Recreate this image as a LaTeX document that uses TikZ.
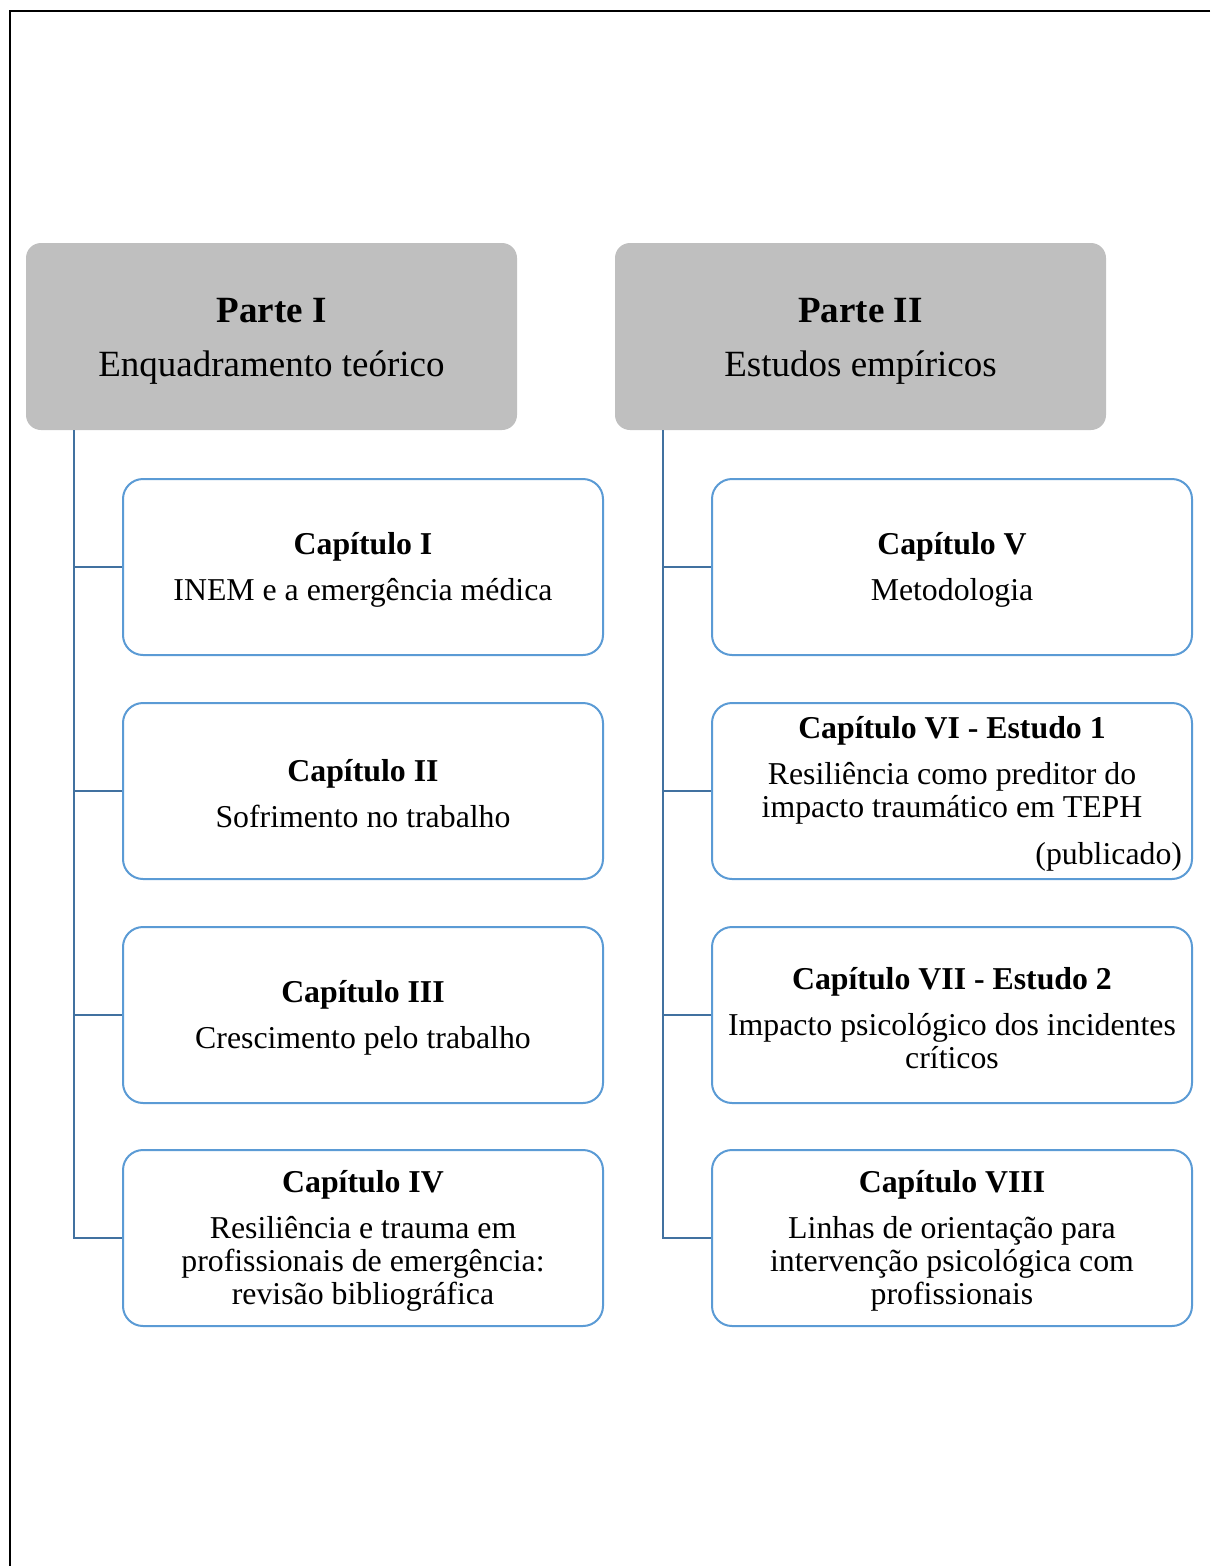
\documentclass[tikz,border=0pt]{standalone}
\usepackage{fontspec}
\setmainfont{Liberation Serif}
\usetikzlibrary{positioning}
\definecolor{partgray}{RGB}{191,191,191}
\definecolor{chapblue}{RGB}{91,155,213}
\definecolor{linkblue}{RGB}{65,113,160}
\newcommand{\parttitle}[1]{\rule{0pt}{33pt}\textbf{#1}}
\newcommand{\captitle}[1]{\rule{0pt}{28pt}\textbf{#1}}
\newcommand{\fixspaces}{\spaceskip=\fontdimen2\font\relax\xspaceskip=\fontdimen2\font\relax}
\tikzset{
  parte/.style={
    rectangle, rounded corners=15pt, fill=partgray, draw=none,
    minimum width=491pt, minimum height=187pt, align=center,
    font=\fontsize{37}{54}\selectfont,
    execute at begin node=\fixspaces
  },
  capitulo/.style={
    rectangle, rounded corners=20pt, draw=chapblue, line width=2pt,
    fill=white, minimum width=480pt, minimum height=176pt,
    text width=460pt, inner xsep=10pt, align=center,
    font=\fontsize{31.8}{33}\selectfont,
    execute at begin node=\fixspaces
  },
  link/.style={draw=linkblue, line width=2.5pt},
  pageframe/.style={draw=black, line width=2.2pt}
}

\begin{document}
\begin{tikzpicture}[x=1pt, y=-1pt]
  \useasboundingbox (0,0) rectangle (1210,1566);

  % ── Page frame ────────────────────────────────────────────────────
  \coordinate (tr) at (1210,11);
  \coordinate (tl) at (10,11);
  \coordinate (bl) at (10,1566);
  \draw[pageframe] (tr) -- (tl) -- (bl);

  % ── Parts ─────────────────────────────────────────────────────────
  \node[parte] (parte1) at (271.5, 336.5)
    {\parttitle{Parte I}\\Enquadramento teórico};
  \node[parte] (parte2) at (860.5, 336.5)
    {\parttitle{Parte II}\\Estudos empíricos};

  % ── Part I chapters ───────────────────────────────────────────────
  \node[capitulo] (cap1) at (363, 567)
    {\captitle{Capítulo I}\\[13pt]INEM e a emergência médica};
  \node[capitulo] (cap2) at (363, 791)
    {\captitle{Capítulo II}\\[13pt]Sofrimento no trabalho};
  \node[capitulo] (cap3) at (363, 1015)
    {\captitle{Capítulo III}\\[13pt]Crescimento pelo trabalho};
  \node[capitulo] (cap4) at (363, 1238)
    {\captitle{Capítulo IV}\\[13pt]Resiliência e trauma em\\
     profissionais de emergência:\\revisão bibliográfica};

  % ── Part II chapters ──────────────────────────────────────────────
  \node[capitulo] (cap5) at (952, 567)
    {\captitle{Capítulo V}\\[13pt]Metodologia};
  \node[capitulo] (cap6) at (952, 791)
    {\captitle{Capítulo VI - Estudo 1}\\[13pt]Resiliência como preditor do\\
     impacto traumático em TEPH\\[14pt]\makebox[\linewidth][r]{(publicado)}};
  \node[capitulo] (cap7) at (952, 1015)
    {\captitle{Capítulo VII - Estudo 2}\\[13pt]Impacto psicológico dos incidentes\\
     críticos};
  \node[capitulo] (cap8) at (952, 1238)
    {\captitle{Capítulo VIII}\\[13pt]Linhas de orientação para\\
     intervenção psicológica com\\profissionais};

  % ── Connections ───────────────────────────────────────────────────
  \coordinate (trunk1) at (74, 430);
  \coordinate (trunk2) at (663, 430);

  \draw[link] (trunk1) |- (cap4.west);
  \draw[link] (trunk1 |- cap1.west) -- (cap1.west);
  \draw[link] (trunk1 |- cap2.west) -- (cap2.west);
  \draw[link] (trunk1 |- cap3.west) -- (cap3.west);

  \draw[link] (trunk2) |- (cap8.west);
  \draw[link] (trunk2 |- cap5.west) -- (cap5.west);
  \draw[link] (trunk2 |- cap6.west) -- (cap6.west);
  \draw[link] (trunk2 |- cap7.west) -- (cap7.west);
\end{tikzpicture}
\end{document}
